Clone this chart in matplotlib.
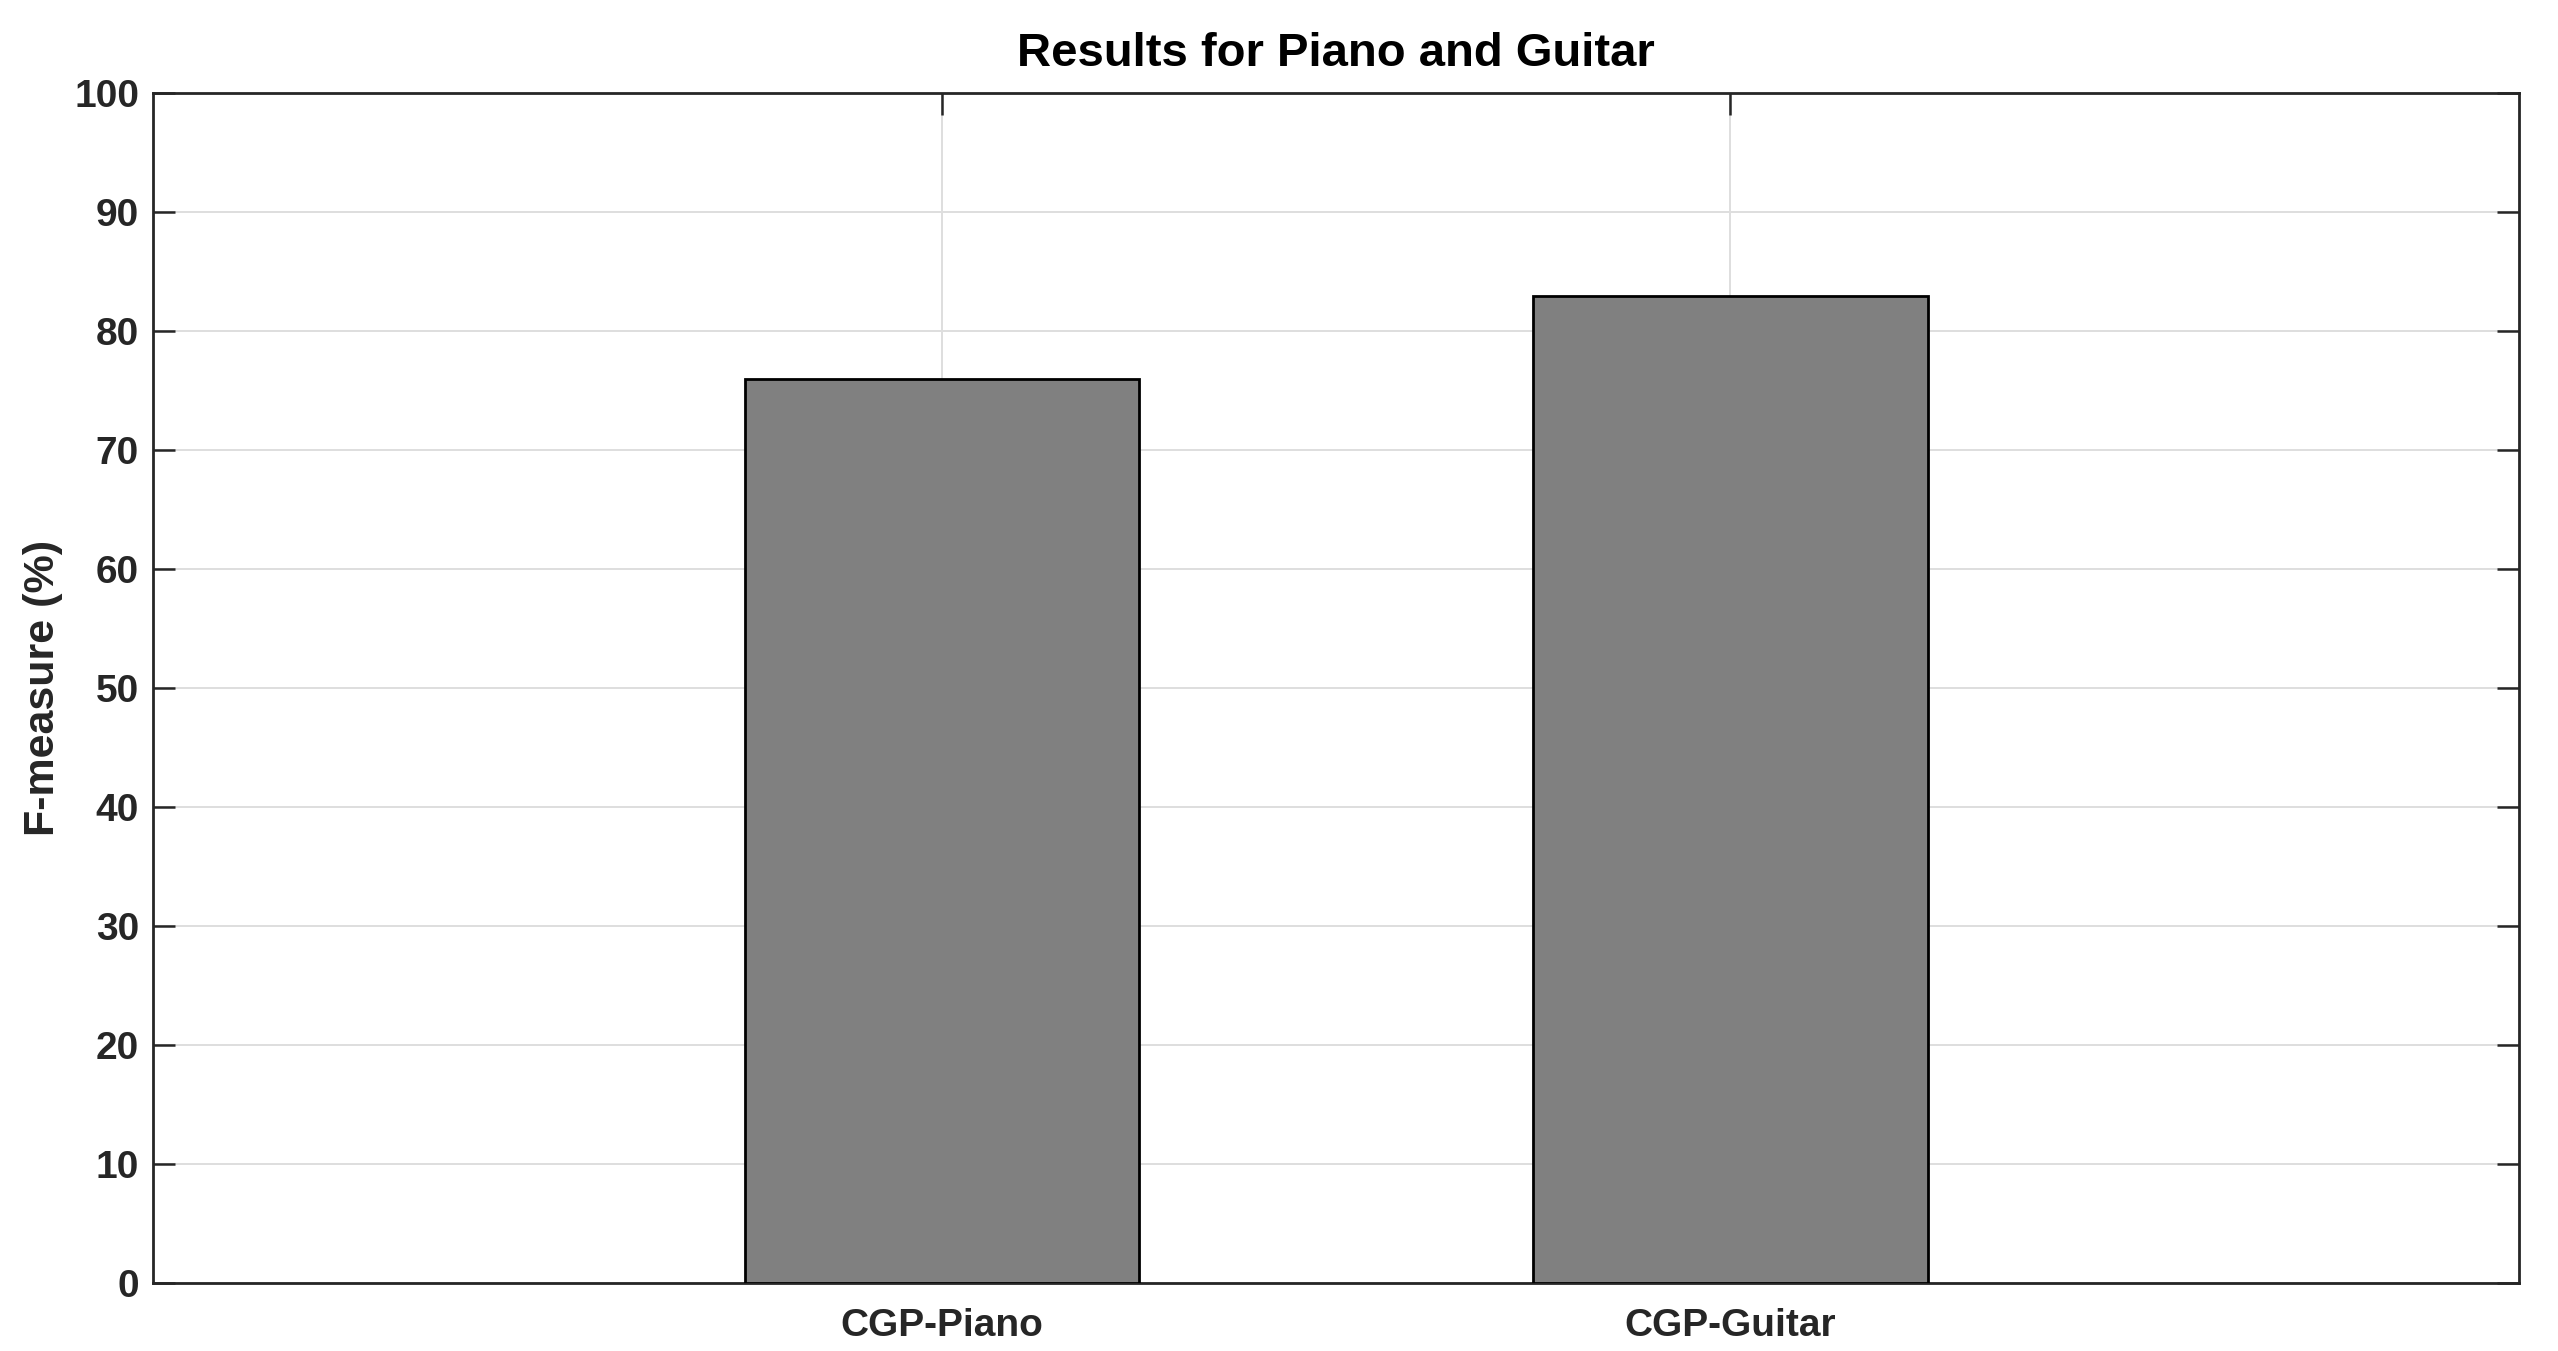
import numpy as np
import matplotlib.pyplot as plt

# F-measure results per system
categories = ["CGP-Piano", "CGP-Guitar"]
fmeasure = [76, 83]
yticks = list(range(0, 101, 10))

plt.rcParams["font.family"] = ["Liberation Sans", "DejaVu Sans"]
plt.rcParams["font.weight"] = "bold"

fig = plt.figure(figsize=(12.79, 6.755), dpi=200)
ax = fig.add_axes([0.0598, 0.0503, 0.9250, 0.8805])

x = np.arange(1, len(categories) + 1)
ax.bar(x, fmeasure, width=0.5, color="#808080", edgecolor="black",
       linewidth=1.0, zorder=3)

ax.set_xlim(0, 3)
ax.set_ylim(0, 100)
ax.set_xticks(x)
ax.set_xticklabels(categories)
ax.set_yticks(yticks)

ax.grid(True, color="#dedede", linewidth=0.7, zorder=0)
ax.set_axisbelow(True)
ax.tick_params(direction="in", length=8, width=0.9, colors="#262626",
               labelsize=14, top=True, right=True)
ax.tick_params(axis="x", pad=9)
ax.tick_params(axis="y", pad=5)
for lbl in ax.get_xticklabels() + ax.get_yticklabels():
    lbl.set_fontweight("bold")
for s in ax.spines.values():
    s.set_color("#262626")
    s.set_linewidth(1.0)

ax.set_ylabel("F-measure (%)", fontsize=15.5, fontweight="bold",
              color="#262626", labelpad=4)
ax.set_title("Results for Piano and Guitar", fontsize=17,
             fontweight="bold", pad=10)

fig.savefig("out.png", dpi=200)
